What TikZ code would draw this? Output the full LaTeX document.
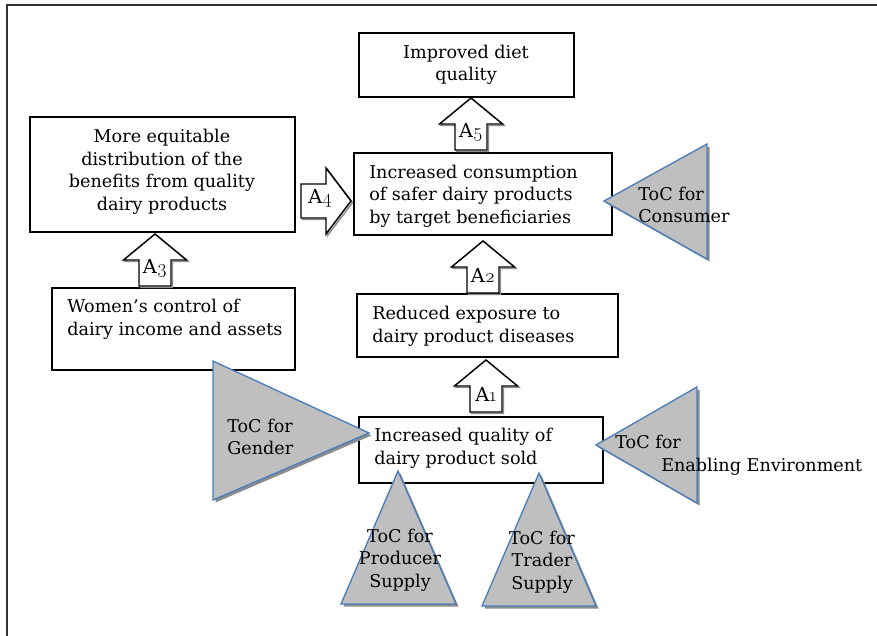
\documentclass[tikz,border=0pt]{standalone}
\usepackage{fontspec}
\setmainfont{DejaVu Serif}
\newfontfamily\osf{Latin Modern Roman}[Numbers=OldStyle]
\usetikzlibrary{fit,calc}
\definecolor{tocfill}{HTML}{BFBFBF}
\definecolor{tocline}{HTML}{4A7EBB}
\definecolor{shadec}{HTML}{8C8C8C}
\tikzset{
 box/.style={draw=black, line width=1.1pt, inner sep=0pt, fill=white},
 txt/.style={font=\fontsize{13.2}{16.9}\selectfont, inner sep=0pt},
 toc/.style={fill=tocfill, draw=tocline, line width=1pt, line join=miter},
 tocshadow/.style={fill=shadec, draw=none},
 blk/.style={fill=white, draw=black, line width=1.1pt},
 blkshadow/.style={draw=shadec, line width=1.1pt},
}
\newcommand{\upblk}[4]{%
 \draw[blkshadow, shift={(1.5,1.5)}] (#2,#3) -- ({#2+31.5},{#3+26}) -- ({#2+16},{#3+26}) -- ({#2+16},{#3+52}) -- ({#2-16},{#3+52}) -- ({#2-16},{#3+26}) -- ({#2-31.5},{#3+26}) -- cycle;
 \draw[blk] (#2,#3) -- ({#2+31.5},{#3+26}) -- ({#2+16},{#3+26}) -- ({#2+16},{#3+52}) -- ({#2-16},{#3+52}) -- ({#2-16},{#3+26}) -- ({#2-31.5},{#3+26}) -- cycle;
 \node[txt, font=\fontsize{14.5}{16.9}\selectfont] (#1) at (#2,{#3+34}) {A{\osf #4}};
}
\newcommand{\tocshape}[3]{%
 \fill[tocshadow, shift={(2.5,2.5)}] #1 -- #2 -- #3 -- cycle;
 \draw[toc] #1 -- #2 -- #3 -- cycle;
}
\begin{document}
\begin{tikzpicture}[x=0.75pt, y=-0.75pt]
\useasboundingbox (0,0) rectangle (877,635);
\fill[white] (0,0) rectangle (877,635);
% outer frame
\draw[line width=0.9pt, draw=black!80] (7,645) -- (7,5) -- (885,5);

% boxes
\node[box, fit={(359,33) (574,97)}] (diet) {};
\node[box, fit={(30,117) (295,232)}] (equit) {};
\node[box, fit={(354,153) (612,235)}] (cons) {};
\node[box, fit={(52,288) (295,370)}] (women) {};
\node[box, fit={(357,294) (618,357)}] (reduced) {};
\node[box, fit={(359,417) (603,483)}] (quality) {};

% block arrows
\upblk{a5}{471}{98}{5}
\upblk{a2}{483}{241}{2}
\upblk{a1}{486}{360}{1}
\upblk{a3}{155}{234}{3}
\draw[blkshadow, shift={(1.5,1.5)}] (301,184) -- (326,184) -- (326,168) -- (351,201) -- (326,234) -- (326,218) -- (301,218) -- cycle;
\draw[blk] (301,184) -- (326,184) -- (326,168) -- (351,201) -- (326,234) -- (326,218) -- (301,218) -- cycle;
\node[txt, font=\fontsize{14.5}{16.9}\selectfont] (a4) at (320,198) {A{\osf 4}};

% ToC triangles
\tocshape{(213,361)}{(369,433)}{(213,500)}
\tocshape{(604,201)}{(707,144)}{(707,259)}
\tocshape{(596,445)}{(697,387)}{(697,503)}
\tocshape{(398,471)}{(456,604)}{(341,604)}
\tocshape{(539,473)}{(596,606)}{(482,606)}

% box texts
\node[txt, align=center] (tdiet) at (466,65) {Improved diet\\quality};
\node[txt, align=center] (tequit) at (162,172) {More equitable\\distribution of the\\benefits from quality\\dairy products};
\node[txt, align=left, anchor=west] (tcons) at (369,196) {Increased consumption\\of safer dairy products\\by target beneficiaries};
\node[txt, align=left, anchor=west] (twomen) at (67,319) {Women’s control of\\dairy income and assets};
\node[txt, align=left, anchor=west] (treduced) at (372,326) {Reduced exposure to\\dairy product diseases};
\node[txt, align=left, anchor=west] (tquality) at (374,448) {Increased quality of\\dairy product sold};

% ToC texts
\node[txt, align=left, anchor=west] (tgender) at (227,437) {ToC for\\Gender};
\node[txt, align=left, anchor=west] (tconsumer) at (638,205) {ToC for\\Consumer};
\node[txt, align=left, anchor=west] (tenabling) at (615,455) {ToC for\\\hspace*{34.5pt}Enabling Environment};
\node[txt, align=center] (tproducer) at (400,560) {ToC for\\Producer\\Supply};
\node[txt, align=center] (ttrader) at (542,562) {ToC for\\Trader\\Supply};
\end{tikzpicture}
\end{document}
